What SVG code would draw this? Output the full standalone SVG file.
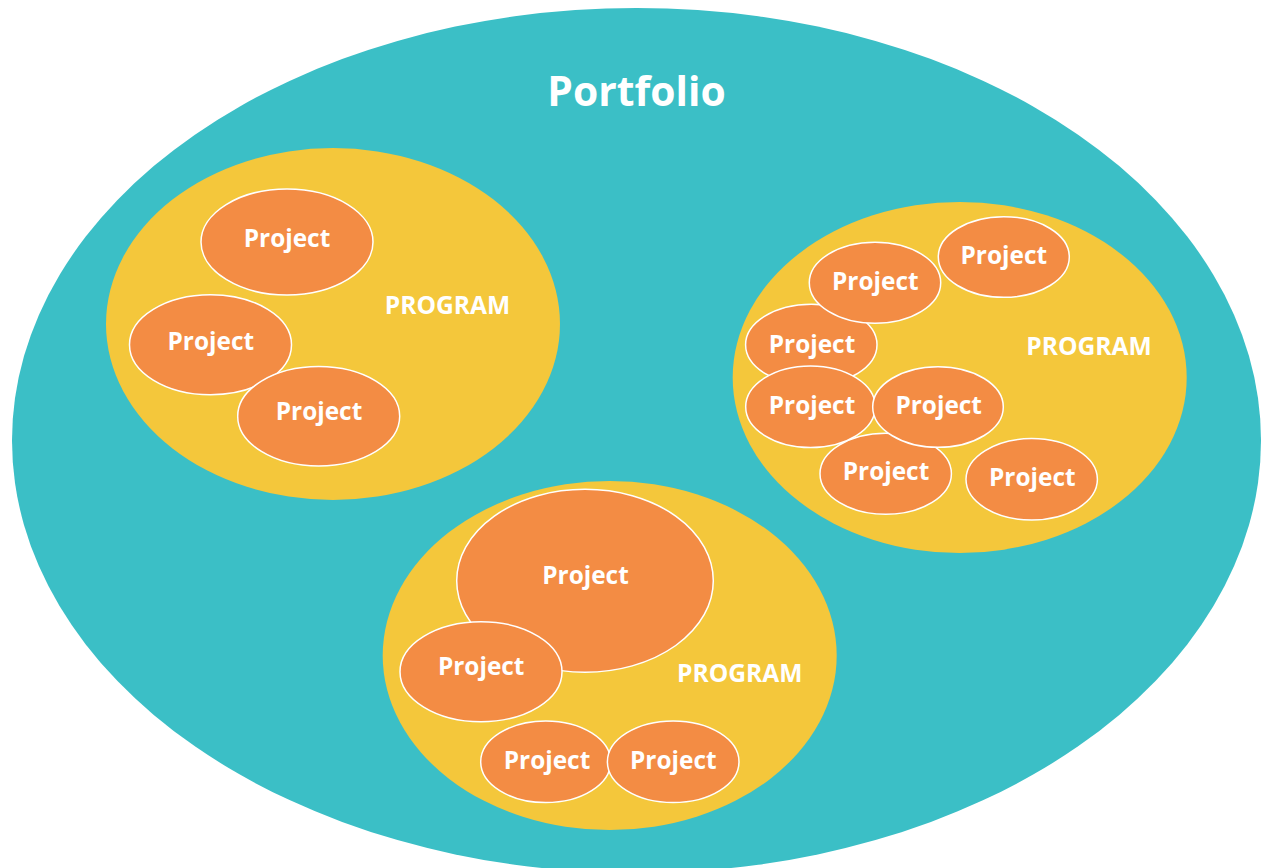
<svg xmlns="http://www.w3.org/2000/svg" width="1264" height="868" viewBox="0 0 1264 868">
<style>
.portfolio{fill:#3BBFC6}
.program{fill:#F4C73B}
.project{fill:#F38C44;stroke:#FFFFFF;stroke-width:1.5}
text{font-family:"Open Sans","Liberation Sans",sans-serif;font-weight:700;fill:#FFFFFF;text-anchor:middle}
.pt{font-size:24.4px}
.pg{font-size:24.6px}
.pf{font-size:40.8px}
</style>
<rect width="1264" height="868" fill="#FFFFFF"/>
<g id="portfolio">
<ellipse class="portfolio" cx="636.5" cy="440.5" rx="624.5" ry="432.5"/>
<text class="pf" x="636.5" y="106">Portfolio</text>
</g>
<g id="program-left">
<ellipse class="program" cx="333" cy="324" rx="227" ry="176"/>
<text class="pg" x="447.5" y="313.5">PROGRAM</text>
</g>
<g id="program-right">
<ellipse class="program" cx="959.7" cy="377.5" rx="227" ry="175.5"/>
<text class="pg" x="1089" y="354.5">PROGRAM</text>
</g>
<g id="program-bottom">
<ellipse class="program" cx="609.7" cy="655.5" rx="227" ry="174.5"/>
<text class="pg" x="739.7" y="681.5">PROGRAM</text>
</g>
<g id="project-l1"><ellipse class="project" cx="287" cy="242" rx="86" ry="53"/><text class="pt" x="287" y="247">Project</text></g>
<g id="project-l2"><ellipse class="project" cx="210.5" cy="344.7" rx="81" ry="50"/><text class="pt" x="210.8" y="349.6">Project</text></g>
<g id="project-l3"><ellipse class="project" cx="318.7" cy="416.3" rx="81" ry="49.7"/><text class="pt" x="319" y="420.3">Project</text></g>
<g id="project-r1"><ellipse class="project" cx="1003.8" cy="257" rx="65.5" ry="40.3"/><text class="pt" x="1003.8" y="264.3">Project</text></g>
<g id="project-r3"><ellipse class="project" cx="811.3" cy="344.8" rx="65.7" ry="40.5"/><text class="pt" x="812" y="352.6">Project</text></g>
<g id="project-r2"><ellipse class="project" cx="875" cy="282.8" rx="65.7" ry="40.5"/><text class="pt" x="875.3" y="290.3">Project</text></g>
<g id="project-r6"><ellipse class="project" cx="885.7" cy="473.8" rx="65.7" ry="40.5"/><text class="pt" x="886" y="480.3">Project</text></g>
<g id="project-r4"><ellipse class="project" cx="810.5" cy="406.8" rx="64.8" ry="40.8"/><text class="pt" x="812" y="413.6">Project</text></g>
<g id="project-r5"><ellipse class="project" cx="938" cy="407" rx="65.3" ry="40.3"/><text class="pt" x="938.7" y="413.6">Project</text></g>
<g id="project-r7"><ellipse class="project" cx="1031.7" cy="479.3" rx="65.7" ry="40.7"/><text class="pt" x="1032.3" y="486.3">Project</text></g>
<g id="project-b1"><ellipse class="project" cx="585" cy="580.8" rx="128.3" ry="91.5"/><text class="pt" x="585.5" y="584.3">Project</text></g>
<g id="project-b2"><ellipse class="project" cx="481" cy="671.7" rx="81" ry="50"/><text class="pt" x="481.2" y="675.3">Project</text></g>
<g id="project-b3"><ellipse class="project" cx="545.7" cy="761.8" rx="65" ry="40.8"/><text class="pt" x="547" y="768.6">Project</text></g>
<g id="project-b4"><ellipse class="project" cx="673.2" cy="761.8" rx="65.8" ry="40.8"/><text class="pt" x="673.3" y="768.6">Project</text></g>
<g id="connectors"></g>
</svg>
